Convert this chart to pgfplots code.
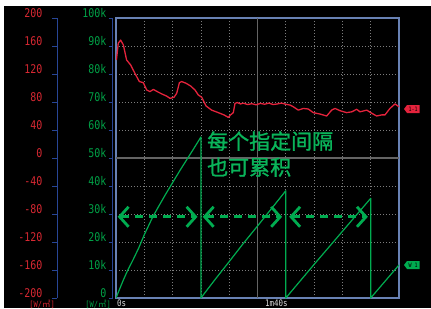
\documentclass[border=0pt]{standalone}
\usepackage{pgfplots}
\pgfplotsset{compat=1.18}
\usepackage{fontspec}
\usetikzlibrary{arrows.meta}
\newfontfamily\monofont[FakeStretch=0.83]{DejaVu Sans Mono}
\newfontfamily\cjk[FakeBold=1.2]{Noto Sans CJK SC}
\newfontfamily\cjkplain{Noto Sans CJK SC}
\definecolor{redl}{RGB}{228,35,60}
\definecolor{redt}{RGB}{215,40,50}
\definecolor{greenl}{RGB}{0,172,80}
\definecolor{greent}{RGB}{0,160,70}
\definecolor{greentext}{RGB}{10,180,90}
\definecolor{boxc}{RGB}{105,130,180}
\definecolor{axb}{RGB}{40,70,150}
\definecolor{gridc}{RGB}{125,125,125}
\definecolor{cgrid}{RGB}{100,100,100}
\definecolor{xlab}{RGB}{220,220,220}
\tikzset{myarr/.style={greenl, line width=2.8pt, dash pattern=on 8pt off 6pt,
  {Straight Barb[length=9pt,width=20pt,line width=2.8pt]}-{Straight Barb[length=9pt,width=20pt,line width=2.8pt]}}}
\begin{document}
\begin{tikzpicture}
\path[use as bounding box] (0,0) rectangle (431pt,-308pt);
\clip (0,0) rectangle (431pt,-308pt);
\fill[white] (0,0) rectangle (431pt,-308pt);
\fill[black] (4pt,-6pt) rectangle (431pt,-308pt);

% red tick axis
\begin{axis}[scale only axis, width=20pt, height=280pt, at={(57.5pt,-298pt)}, anchor=south west,
  xmin=0, xmax=1, ymin=-200, ymax=200, hide x axis, axis y line*=left,
  axis line style={draw=axb, line width=1pt, -},
  ytick={-200,-160,...,200}, tick align=outside, major tick length=5pt,
  major tick style={draw=axb, line width=1pt},
  yticklabel style={text=redt, font=\monofont\fontsize{12}{12}\selectfont, anchor=south east, inner sep=0pt, xshift=-10pt},
  /pgf/number format/assume math mode=true]
\end{axis}

% green tick axis
\begin{axis}[scale only axis, width=2pt, height=280pt, at={(112.5pt,-298pt)}, anchor=south west,
  xmin=0, xmax=1, ymin=0, ymax=100, hide x axis, axis y line*=left,
  axis line style={draw=axb, line width=1pt, -},
  ytick={0,10,...,100}, yticklabels={0,10k,20k,30k,40k,50k,60k,70k,80k,90k,100k},
  tick align=outside, major tick length=4pt,
  major tick style={draw=axb, line width=1pt},
  yticklabel style={text=greent, font=\monofont\fontsize{12}{12}\selectfont, anchor=south east, inner sep=0pt, xshift=-2pt}]
\end{axis}

% main plot
\begin{axis}[scale only axis, width=283pt, height=280pt, at={(116pt,-298pt)}, anchor=south west,
  xmin=0, xmax=200, ymin=0, ymax=100,
  xtick={20,40,...,180}, ytick={10,20,...,90}, xticklabels={}, yticklabels={},
  major tick length=0pt, grid=major,
  grid style={draw=gridc, line width=0.8pt, dash pattern=on 1pt off 2pt},
  axis line style={draw=boxc, line width=1.2pt}]
\draw[cgrid, line width=1.1pt] (axis cs:100,0) -- (axis cs:100,100);
\draw[cgrid, line width=1.1pt] (axis cs:0,50) -- (axis cs:200,50);

\addplot[redl, line width=1.3pt, line join=round] coordinates {
(0.3,85) (1.6,91) (3.3,92.1) (5.2,90.4) (7.5,85) (10.4,83.2) (13.4,80.2) (16.5,77.3)
(19.3,76.9) (21.7,74.3) (24,73.7) (26.4,74.5) (29.2,73.7) (32.3,72.9) (35.8,72.1)
(38.2,71.3) (41,71.7) (42.9,73.1) (44.8,76.9) (46.4,77.3) (49.5,76.7) (52.8,75.7)
(55.8,74.3) (58.2,72.5) (60.6,71.7) (63.6,68.6) (67.6,67.1) (72.3,66.2) (76.3,65.4)
(79.4,64.5) (81,65.4) (82.9,66.2) (84.1,69.5) (85.7,69.8) (88,69.3) (90,69.6) (93,69.1)
(96,69.4) (99,69.0) (102,69.5) (105,69.2) (108,69.6) (111,69.1) (114,69.3) (117,69.6)
(120,69.2) (123,68.9) (125.3,68.3) (128.8,67.1) (132.4,67.7) (135.9,67.5) (139.4,66.2)
(144.2,65.7) (148.9,65) (152.4,67.1) (154.8,67.7) (158.3,66.9) (163,66.2) (166.6,66.5)
(170.1,67.4) (172.4,66.5) (177.2,67.1) (180.7,66) (184.2,65) (187.8,65.4) (190.1,65.4)
(193.6,67.7) (197.2,69.3) (200,68.3)};

\addplot[greenl, line width=1.2pt, line join=round] coordinates {
(0,0) (2,2.5) (5,6.2) (8,9.6) (12,13.6) (16,17.8) (20,22.6) (26,29) (30,32.6) (35,37)
(40,41.2) (45,45.4) (50,49.4) (55,53.4) (60,57.5) (60,0)
(70,6.6) (80,13) (90,19.5) (100,25.7) (110,32) (120,38.3) (120,0)
(130,6) (140,12) (150,17.9) (160,23.8) (170,29.7) (180,35.6) (180,0)
(190,5.9) (200,11.8)};

\draw[myarr] (axis cs:1.2,29) -- (axis cs:57.6,29);
\draw[myarr] (axis cs:61.3,29) -- (axis cs:117.4,29);
\draw[myarr] (axis cs:122.4,29) -- (axis cs:178,29);

\node[anchor=north west, inner sep=0pt, text=greentext, align=left,
  font=\cjk\fontsize{21}{26}\selectfont] at (axis cs:64.3,59.6) {每个指定间隔\\也可累积};
\end{axis}

% series tags
\fill[redl] (404pt,-109pt) -- (407pt,-105pt) -- (419.5pt,-105pt) -- (419.5pt,-113pt) -- (407pt,-113pt) -- cycle;
\node[font=\monofont\fontsize{6}{6}\selectfont, text=black, inner sep=0pt] at (413pt,-109pt) {1-1};
\fill[greenl] (404pt,-265pt) -- (407pt,-261pt) -- (419.5pt,-261pt) -- (419.5pt,-269pt) -- (407pt,-269pt) -- cycle;
\node[font=\monofont\fontsize{6}{6}\selectfont, text=black, inner sep=0pt] at (413pt,-265pt) {W 1};

% bottom labels
\node[anchor=north east, inner sep=0pt, text=redt, font=\monofont\fontsize{8.5}{8.5}\selectfont] at (55pt,-299.5pt) {[W/{\cjkplain ㎡}]};
\node[anchor=north east, inner sep=0pt, text=greent, font=\monofont\fontsize{8.5}{8.5}\selectfont] at (111pt,-299.5pt) {[W/{\cjkplain ㎡}]};
\node[anchor=north west, inner sep=0pt, text=xlab, font=\monofont\fontsize{9}{9}\selectfont] at (117pt,-300pt) {0s};
\node[anchor=north west, inner sep=0pt, text=xlab, font=\monofont\fontsize{9}{9}\selectfont] at (265pt,-300pt) {1m40s};
\end{tikzpicture}
\end{document}
